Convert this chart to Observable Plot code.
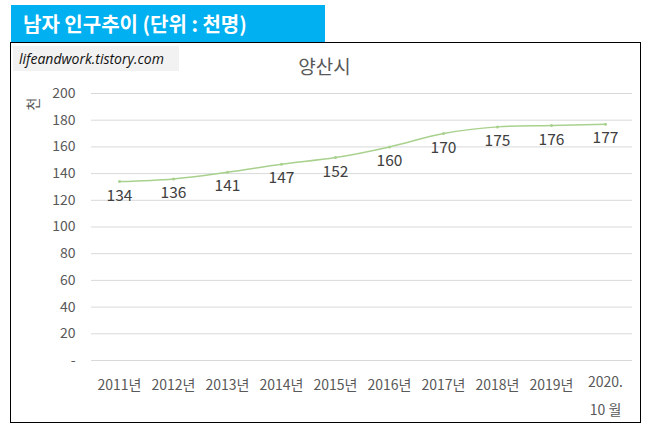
<!DOCTYPE html>
<html><head><meta charset="utf-8">
<script src="https://cdn.jsdelivr.net/npm/d3@7"></script>
<script src="https://cdn.jsdelivr.net/npm/@observablehq/plot@0.6"></script>
<style>
body{margin:0;background:#fff;font-family:"Noto Sans CJK KR","Noto Sans",sans-serif;}
#wrap{position:relative;width:649px;height:429px;}
#title{position:absolute;left:11px;top:5px;width:314px;height:37px;background:#00B0F0;color:#fff;font-weight:bold;font-size:20px;line-height:37px;padding-left:12px;box-sizing:border-box;}
#box{position:absolute;left:10px;top:42px;width:631px;height:381px;border:1.5px solid #000;box-sizing:border-box;}
#wm{position:absolute;left:13px;top:46px;width:166px;height:25px;background:#f2f2f2;font-style:italic;font-size:14px;line-height:25px;padding-left:6px;box-sizing:border-box;color:#111;font-family:"Open Sans","DejaVu Sans",sans-serif;}
#ct{position:absolute;left:0;width:649px;top:52px;text-align:center;font-size:19px;color:#595959;}
#yt{position:absolute;left:26px;top:94px;font-size:14px;color:#595959;transform:rotate(-90deg);}
#chart{position:absolute;left:11px;top:43px;}
</style></head>
<body><div id="wrap">
<div id="title">남자 인구추이 (단위 : 천명)</div>
<div id="box"></div>
<div id="chart"></div>
<div id="wm">lifeandwork.tistory.com</div>
<div id="ct">양산시</div>
<div id="yt">천</div>
</div>
<script>
const categories = ["2011년","2012년","2013년","2014년","2015년","2016년","2017년","2018년","2019년","2020.\n10 월"];
const values = [134,136,141,147,152,160,170,175,176,177];
const yTicks = [0,20,40,60,80,100,120,140,160,180,200];

const data = categories.map((c,i)=>({cat:c, v:values[i]}));
const last = categories[categories.length-1];
const plot = Plot.plot({
  width: 628, height: 377,
  marginLeft: 80, marginRight: 7, marginTop: 50, marginBottom: 60,
  style:{fontFamily:'"Noto Sans CJK KR","Noto Sans",sans-serif', background:"transparent"},
  x:{type:"point", domain:categories, padding:0.5, axis:null},
  y:{domain:[0,200], axis:null},
  marks:[
    Plot.gridY(yTicks, {stroke:"#d9d9d9", strokeOpacity:1, strokeWidth:1}),
    Plot.axisY({ticks:yTicks, tickSize:0, tickPadding:16, fontSize:14, fill:"#595959", tickFormat:d=>d===0?"-":d, label:null}),
    Plot.text(categories.filter(c=>c!==last), {x:d=>d, frameAnchor:"bottom", dy:25, fontSize:14, fill:"#595959", lineAnchor:"middle"}),
    Plot.text([last], {x:d=>d, frameAnchor:"bottom", dy:7, fontSize:14, fill:"#595959", lineAnchor:"top", lineHeight:2}),
    Plot.line(data, {x:"cat", y:"v", stroke:"#A9D18E", strokeWidth:1.5, curve:"catmull-rom"}),
    Plot.dot(data, {x:"cat", y:"v", r:1.5, fill:"#A9D18E"}),
    Plot.text(data, {x:"cat", y:"v", text:d=>d.v, dy:14, fontSize:15.5, fill:"#404040"})
  ]
});
document.getElementById("chart").appendChild(plot);
</script>
</body></html>
